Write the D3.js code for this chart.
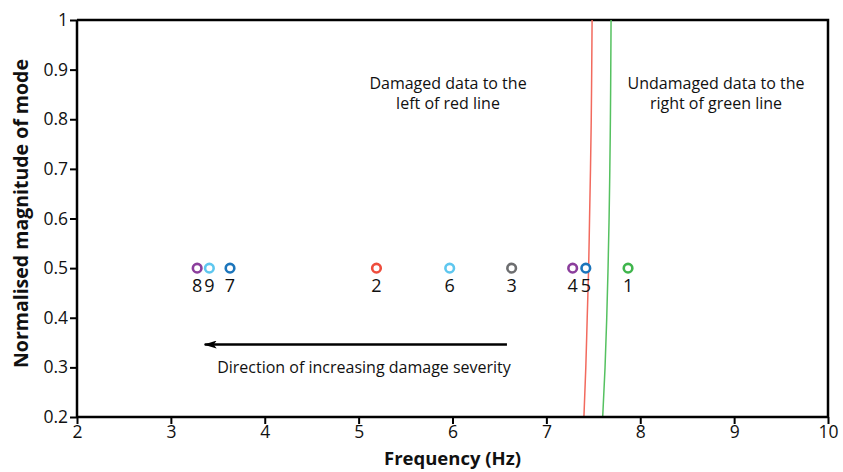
<!DOCTYPE html>
<html>
<head>
<meta charset="utf-8">
<script src="https://cdn.jsdelivr.net/npm/d3@7"></script>
<style>
  body { margin: 0; background: #fff; }
  svg text { font-family: "Open Sans", "Noto Sans", sans-serif; fill: #111; }
</style>
</head>
<body>
<div id="chart"></div>
<script>
// mode labels, frequencies and colours
var modes = ["1", "2", "3", "4", "5", "6", "7", "8", "9"];
var freqs = [7.87, 5.19, 6.63, 7.28, 7.42, 5.97, 3.63, 3.28, 3.41];
var mags  = [0.5, 0.5, 0.5, 0.5, 0.5, 0.5, 0.5, 0.5, 0.5];
var colors = ["#3fb54c", "#ee4d3d", "#6d6e70", "#8b3e9c", "#1b75bb", "#5ec7ef", "#1b75bb", "#8b3e9c", "#5ec7ef"];

// boundary curves (frequency at given magnitude)
var boundMag   = [0.2, 0.3, 0.4, 0.5, 0.6, 0.7, 0.8, 0.9, 1.0];
var redFreq    = [7.40, 7.42, 7.435, 7.45, 7.46, 7.47, 7.478, 7.483, 7.487];
var greenFreq  = [7.60, 7.625, 7.643, 7.657, 7.668, 7.676, 7.682, 7.686, 7.689];

var xTicks = [2, 3, 4, 5, 6, 7, 8, 9, 10];
var yTicks = [0.2, 0.3, 0.4, 0.5, 0.6, 0.7, 0.8, 0.9, 1];

var W = 843, H = 472;
var margin = {top: 20, right: 15, bottom: 55, left: 77};

var svg = d3.select("#chart").append("svg")
  .attr("width", W).attr("height", H);

var x = d3.scaleLinear().domain([2, 10]).range([margin.left, W - margin.right]);
var y = d3.scaleLinear().domain([0.2, 1]).range([H - margin.bottom, margin.top]);

// frame top / right
svg.append("path")
  .attr("d", "M" + x(2) + "," + y(1) + "H" + x(10) + "V" + y(0.2))
  .attr("fill", "none").attr("stroke", "#000").attr("stroke-width", 2.5);

// boundary lines
var line = d3.line().x(d => x(d[0])).y(d => y(d[1])).curve(d3.curveMonotoneY);
svg.append("path")
  .attr("d", line(boundMag.map((m, i) => [redFreq[i], m])))
  .attr("fill", "none").attr("stroke", "#f26a5e").attr("stroke-width", 1.5);
svg.append("path")
  .attr("d", line(boundMag.map((m, i) => [greenFreq[i], m])))
  .attr("fill", "none").attr("stroke", "#55c160").attr("stroke-width", 1.5);

// axes
var xAxis = svg.append("g")
  .attr("transform", "translate(0," + y(0.2) + ")")
  .call(d3.axisBottom(x).tickValues(xTicks).tickSize(7).tickPadding(2).tickFormat(d3.format("d")));
var yAxis = svg.append("g")
  .attr("transform", "translate(" + x(2) + ",0)")
  .call(d3.axisLeft(y).tickValues(yTicks).tickSize(7).tickPadding(2).tickFormat(d => d === 1 ? "1" : d3.format(".1f")(d)));
[xAxis, yAxis].forEach(function(a) {
  a.select(".domain").attr("stroke", "#000").attr("stroke-width", 2.5);
  a.selectAll(".tick line").attr("stroke", "#000").attr("stroke-width", 2);
  a.selectAll(".tick text").attr("font-size", 17.5).attr("fill", "#111")
    .attr("font-family", "'Open Sans', 'Noto Sans', sans-serif");
});
xAxis.selectAll(".domain").attr("d", "M" + x(2) + ",0H" + x(10));
yAxis.selectAll(".domain").attr("d", "M0," + y(0.2) + "V" + y(1));

// axis titles
svg.append("text")
  .attr("x", (x(2) + x(10)) / 2).attr("y", 465)
  .attr("text-anchor", "middle").attr("font-size", 18.5).attr("font-weight", "bold")
  .text("Frequency (Hz)");
svg.append("text")
  .attr("transform", "translate(28," + (y(0.61)) + ")rotate(-90)")
  .attr("text-anchor", "middle").attr("font-size", 19.5).attr("font-weight", "bold")
  .text("Normalised magnitude of mode");

// points
svg.selectAll("circle.pt")
  .data(modes).enter().append("circle")
  .attr("class", "pt")
  .attr("cx", (d, i) => x(freqs[i]))
  .attr("cy", (d, i) => y(mags[i]))
  .attr("r", 4.3)
  .attr("fill", "#fff")
  .attr("stroke", (d, i) => colors[i])
  .attr("stroke-width", 2.6);

svg.selectAll("text.lbl")
  .data(modes).enter().append("text")
  .attr("class", "lbl")
  .attr("x", (d, i) => x(freqs[i]))
  .attr("y", (d, i) => y(mags[i]) + 24)
  .attr("text-anchor", "middle").attr("font-size", 18)
  .text(d => d);

// annotations
function block(cx, cy, lines) {
  var t = svg.append("text").attr("text-anchor", "middle").attr("font-size", 16);
  lines.forEach(function(s, i) {
    t.append("tspan").attr("x", cx).attr("y", cy + i * 20).text(s);
  });
}
block(448, 89, ["Damaged data to the", "left of red line"]);
block(716, 89, ["Undamaged data to the", "right of green line"]);
block(364, 373, ["Direction of increasing damage severity"]);

// arrow
svg.append("defs").append("marker")
  .attr("id", "ah").attr("viewBox", "0 0 13 8")
  .attr("refX", 12).attr("refY", 4)
  .attr("markerWidth", 13).attr("markerHeight", 8)
  .attr("markerUnits", "userSpaceOnUse")
  .attr("orient", "auto")
  .append("path").attr("d", "M0,0L13,4L0,8L3,4Z").attr("fill", "#000");
svg.append("line")
  .attr("x1", x(6.58)).attr("x2", x(3.36))
  .attr("y1", y(0.346)).attr("y2", y(0.346))
  .attr("stroke", "#000").attr("stroke-width", 2.5)
  .attr("marker-end", "url(#ah)");
</script>
</body>
</html>
